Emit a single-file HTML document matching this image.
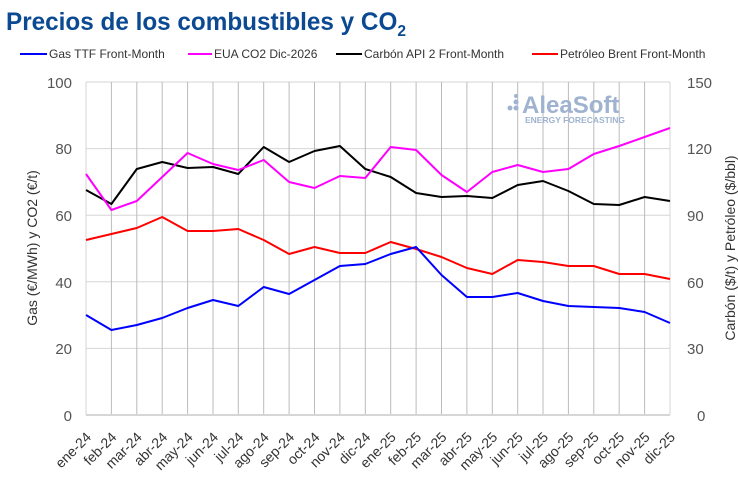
<!DOCTYPE html>
<html><head><meta charset="utf-8"><style>
body{margin:0;background:#fff;width:738px;height:491px;overflow:hidden}
svg{display:block;font-family:"Liberation Sans",sans-serif}
</style></head><body>
<svg width="738" height="491" viewBox="0 0 738 491" xmlns="http://www.w3.org/2000/svg">
<text x="6" y="30" font-size="25" font-weight="bold" fill="#0b4a92" textLength="400" lengthAdjust="spacingAndGlyphs">Precios de los combustibles y CO<tspan font-size="16" dy="6">2</tspan></text>
<g font-size="12" fill="#333">
<line x1="20" y1="54" x2="47" y2="54" stroke="#0000ff" stroke-width="2"/><text x="49" y="58">Gas TTF Front-Month</text>
<line x1="188" y1="54" x2="212" y2="54" stroke="#ff00ff" stroke-width="2"/><text x="214" y="58">EUA CO2 Dic-2026</text>
<line x1="336" y1="54" x2="362" y2="54" stroke="#000" stroke-width="2"/><text x="364" y="58">Carbón API 2 Front-Month</text>
<line x1="532" y1="54" x2="558" y2="54" stroke="#ff0000" stroke-width="2"/><text x="560" y="58">Petróleo Brent Front-Month</text>
</g>
<g stroke="#d6d6d6" stroke-width="1">
<line x1="86" y1="82" x2="670" y2="82"/><line x1="86" y1="148.6" x2="670" y2="148.6"/><line x1="86" y1="215.2" x2="670" y2="215.2"/><line x1="86" y1="281.8" x2="670" y2="281.8"/><line x1="86" y1="348.4" x2="670" y2="348.4"/>
<line x1="670" y1="82" x2="670" y2="415"/><line x1="86" y1="82" x2="86" y2="415"/>
</g>
<g stroke="#bbb" stroke-width="1">
<line x1="111.4" y1="82" x2="111.4" y2="415"/><line x1="136.8" y1="82" x2="136.8" y2="415"/><line x1="162.2" y1="82" x2="162.2" y2="415"/><line x1="187.6" y1="82" x2="187.6" y2="415"/><line x1="213" y1="82" x2="213" y2="415"/><line x1="238.3" y1="82" x2="238.3" y2="415"/><line x1="263.7" y1="82" x2="263.7" y2="415"/><line x1="289.1" y1="82" x2="289.1" y2="415"/><line x1="314.5" y1="82" x2="314.5" y2="415"/><line x1="339.9" y1="82" x2="339.9" y2="415"/><line x1="365.3" y1="82" x2="365.3" y2="415"/><line x1="390.7" y1="82" x2="390.7" y2="415"/><line x1="416.1" y1="82" x2="416.1" y2="415"/><line x1="441.5" y1="82" x2="441.5" y2="415"/><line x1="466.9" y1="82" x2="466.9" y2="415"/><line x1="492.3" y1="82" x2="492.3" y2="415"/><line x1="517.7" y1="82" x2="517.7" y2="415"/><line x1="543" y1="82" x2="543" y2="415"/><line x1="568.4" y1="82" x2="568.4" y2="415"/><line x1="593.8" y1="82" x2="593.8" y2="415"/><line x1="619.2" y1="82" x2="619.2" y2="415"/><line x1="644.6" y1="82" x2="644.6" y2="415"/>
</g>
<line x1="86" y1="415" x2="670" y2="415" stroke="#d6d6d6" stroke-width="2"/>
<g fill="#9fb3d0"><circle cx="510" cy="108" r="2.5"/><circle cx="516" cy="108" r="2.5"/><circle cx="516" cy="102" r="2.5"/><circle cx="516" cy="96" r="2"/></g>
<text x="522" y="113" font-size="24" font-weight="bold" fill="#9fb3d0">AleaSoft</text>
<text x="525" y="123" font-size="8.5" font-weight="bold" fill="#9fb3d0">ENERGY FORECASTING</text>
<g font-size="15" fill="#555" text-anchor="end">
<text x="72" y="88">100</text><text x="72" y="154">80</text><text x="72" y="221">60</text><text x="72" y="288">40</text><text x="72" y="354">20</text><text x="72" y="421">0</text>
</g>
<g font-size="15" fill="#555" text-anchor="start">
<text x="687" y="88">150</text><text x="687" y="154">120</text><text x="687" y="221">90</text><text x="687" y="288">60</text><text x="687" y="354">30</text><text x="697" y="421">0</text>
</g>
<text transform="translate(37,248) rotate(-90)" font-size="14" fill="#333" text-anchor="middle">Gas (€/MWh) y CO2 (€/t)</text>
<text transform="translate(735,248) rotate(-90)" font-size="14" fill="#333" text-anchor="middle">Carbón ($/t) y Petróleo ($/bbl)</text>
<g fill="none" stroke-width="2" stroke-linejoin="round">
<polyline stroke="#ff0000" points="86,240 111.4,234 136.8,228 162.2,217 187.6,231 213,231 238.3,229 263.7,240 289.1,254 314.5,247 339.9,253 365.3,253 390.7,242 416.1,249 441.5,257 466.9,268 492.3,274 517.7,260 543,262 568.4,266 593.8,266 619.2,274 644.6,274 670,279"/>
<polyline stroke="#000" points="86,190 111.4,204 136.8,169 162.2,162 187.6,168 213,167 238.3,174 263.7,147 289.1,162 314.5,151 339.9,146 365.3,169 390.7,177 416.1,193 441.5,197 466.9,196 492.3,198 517.7,185 543,181 568.4,191 593.8,204 619.2,205 644.6,197 670,201"/>
<polyline stroke="#ff00ff" points="86,174 111.4,210 136.8,201 162.2,177 187.6,153 213,164 238.3,170 263.7,160 289.1,182 314.5,188 339.9,176 365.3,178 390.7,147 416.1,150 441.5,175 466.9,192 492.3,172 517.7,165 543,172 568.4,169 593.8,154 619.2,146 644.6,137 670,128"/>
<polyline stroke="#0000ff" points="86,315 111.4,330 136.8,325 162.2,318 187.6,308 213,300 238.3,306 263.7,287 289.1,294 314.5,280 339.9,266 365.3,264 390.7,254 416.1,247 441.5,275 466.9,297 492.3,297 517.7,293 543,301 568.4,306 593.8,307 619.2,308 644.6,312 670,323"/>
</g>
<g font-size="14" fill="#333" text-anchor="end">
<text transform="translate(92,438) rotate(-45)">ene-24</text><text transform="translate(117.4,438) rotate(-45)">feb-24</text><text transform="translate(142.8,438) rotate(-45)">mar-24</text><text transform="translate(168.2,438) rotate(-45)">abr-24</text><text transform="translate(193.6,438) rotate(-45)">may-24</text><text transform="translate(219,438) rotate(-45)">jun-24</text><text transform="translate(244.3,438) rotate(-45)">jul-24</text><text transform="translate(269.7,438) rotate(-45)">ago-24</text><text transform="translate(295.1,438) rotate(-45)">sep-24</text><text transform="translate(320.5,438) rotate(-45)">oct-24</text><text transform="translate(345.9,438) rotate(-45)">nov-24</text><text transform="translate(371.3,438) rotate(-45)">dic-24</text><text transform="translate(396.7,438) rotate(-45)">ene-25</text><text transform="translate(422.1,438) rotate(-45)">feb-25</text><text transform="translate(447.5,438) rotate(-45)">mar-25</text><text transform="translate(472.9,438) rotate(-45)">abr-25</text><text transform="translate(498.3,438) rotate(-45)">may-25</text><text transform="translate(523.7,438) rotate(-45)">jun-25</text><text transform="translate(549,438) rotate(-45)">jul-25</text><text transform="translate(574.4,438) rotate(-45)">ago-25</text><text transform="translate(599.8,438) rotate(-45)">sep-25</text><text transform="translate(625.2,438) rotate(-45)">oct-25</text><text transform="translate(650.6,438) rotate(-45)">nov-25</text><text transform="translate(676,438) rotate(-45)">dic-25</text>
</g>
</svg>
</body></html>
